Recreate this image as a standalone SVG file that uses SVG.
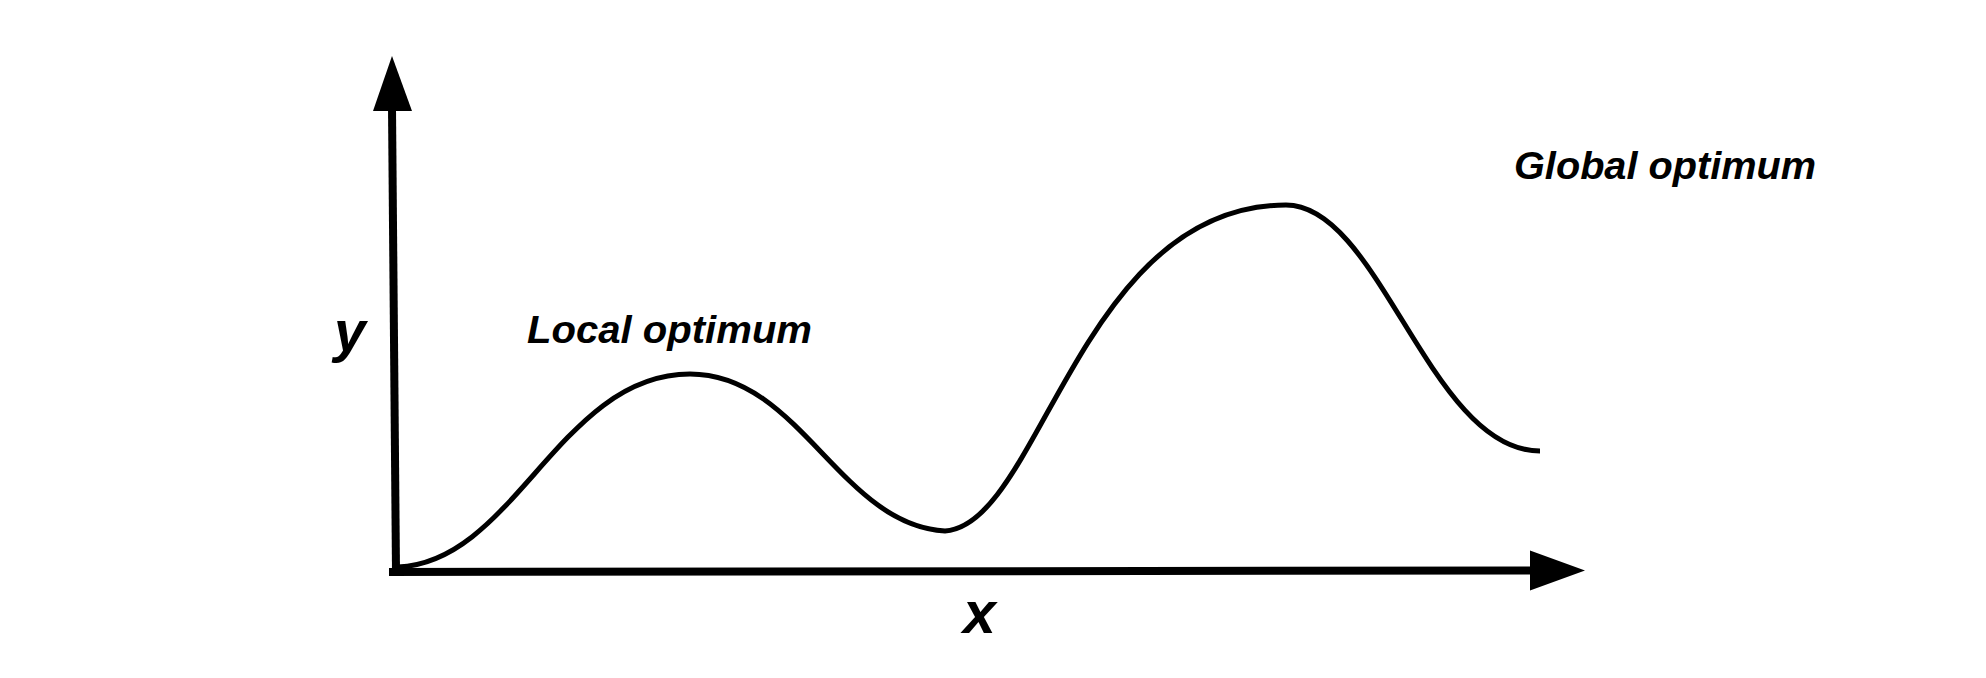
<svg xmlns="http://www.w3.org/2000/svg" width="1986" height="678" viewBox="0 0 1986 678">
<style>
.axis{stroke:#000;stroke-width:8;fill:none}
.curve{stroke:#000;stroke-width:5;fill:none}
.head{fill:#000}
.lbl{font-family:"Liberation Sans",Arial,sans-serif;font-weight:bold;font-style:italic;fill:#000}
</style>
<rect width="1986" height="678" fill="#fff"/>
<g id="connectors">
<line class="axis" x1="392" y1="108" x2="396" y2="572"/>
<polygon class="head" points="392,56 373,111 412,111"/>
<line class="axis" x1="389" y1="572" x2="1532" y2="570.5"/>
<polygon class="head" points="1585,570.5 1530,550.5 1530,590.5"/>
<path class="curve" d="M398,567 C515,562 560,374 690,374 C800,374 840,525 945,531 C1040,525 1080,205 1286,205 C1380,205 1430,451 1540,451"/>
</g>
<g id="label-y"><text class="lbl" x="334" y="351" font-size="57">y</text></g>
<g id="label-x"><text class="lbl" x="963" y="633" font-size="59">x</text></g>
<g id="label-local"><text class="lbl" x="527" y="343" font-size="38" textLength="285" lengthAdjust="spacingAndGlyphs">Local optimum</text></g>
<g id="label-global"><text class="lbl" x="1514" y="179" font-size="39" textLength="302" lengthAdjust="spacingAndGlyphs">Global optimum</text></g>
</svg>
